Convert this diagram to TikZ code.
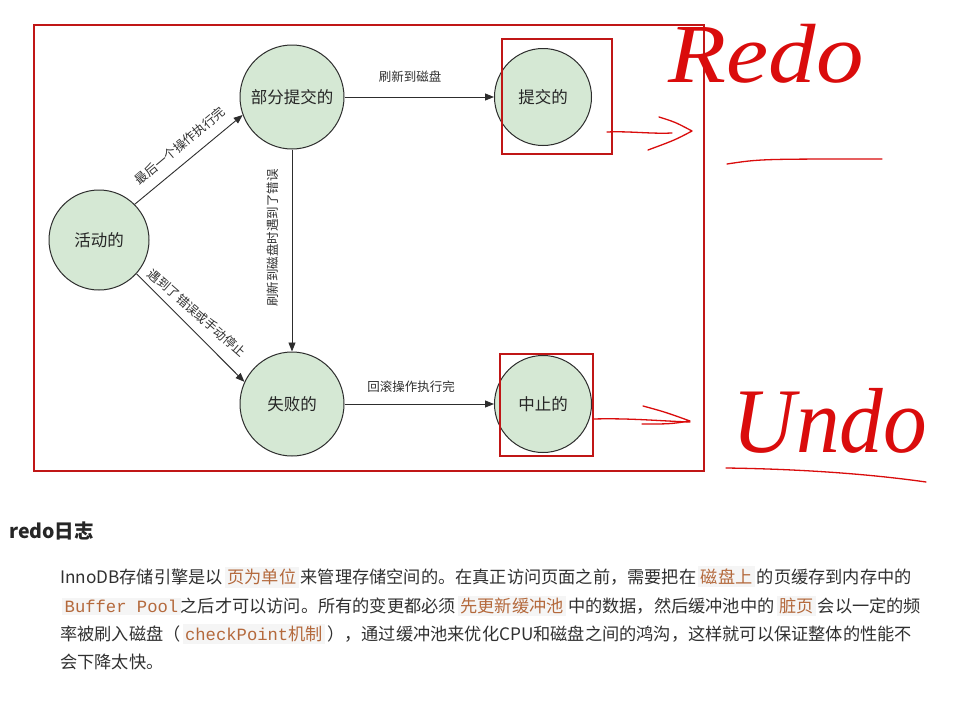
\documentclass[tikz,border=0pt]{standalone}
\usepackage{fontspec}
\setmainfont{Noto Sans CJK SC}
\setmonofont{Liberation Mono}
\newfontfamily\hand{Liberation Serif}
\usetikzlibrary{arrows.meta}
\definecolor{nodefill}{RGB}{213,232,212}
\definecolor{nodeline}{RGB}{45,45,45}
\definecolor{boxred}{RGB}{192,22,22}
\definecolor{inkred}{RGB}{218,12,12}
\definecolor{bodytext}{RGB}{48,48,48}
\definecolor{hlfg}{RGB}{180,105,60}
\definecolor{hlbg}{RGB}{245,245,245}
\newcommand{\hlbox}[1]{{\setlength{\fboxsep}{2.5pt}\colorbox{hlbg}{\color{hlfg}#1}}}
\newcommand{\hlspan}[1]{\hspace{2pt}\hlbox{#1}\hspace{2pt}}
\begin{document}
\begin{tikzpicture}[x=1pt,y=-1pt,
  state/.style={circle, draw=nodeline, line width=1pt, fill=nodefill, minimum size=100pt, inner sep=0pt, text=black!85, font=\fontsize{16.5}{17}\selectfont},
  conn/.style={draw=nodeline, line width=0.9pt, -{Triangle[length=9pt,width=7pt]}},
  elabel/.style={font=\fontsize{12.5}{13}\selectfont, text=bodytext, inner sep=0pt},
  redbox/.style={draw=boxred, line width=1.2pt},
  ink/.style={draw=inkred, line width=1.3pt, line cap=round, line join=round},
  inktext/.style={text=inkred, font=\hand\itshape\fontsize{84}{84}\selectfont, inner sep=0pt},
  para/.style={anchor=west, inner sep=0pt, text=bodytext, font=\fontsize{17.2}{18}\selectfont}]
\path[use as bounding box, fill=white] (0,0) rectangle (963,704);

% states
\node[state] (active) at (99,240) {活动的};
\node[state, minimum size=104pt] (partial) at (292,97) {部分提交的};
\node[state, minimum size=97pt] (committed) at (543,97) {提交的};
\node[state, minimum size=104pt] (failed) at (292,404) {失败的};
\node[state, minimum size=97pt] (aborted) at (543,404) {中止的};

% connectors
\draw[conn] (active.45) -- (partial.200);
\draw[conn] (active.-42) -- (failed.155);
\draw[conn] (partial) -- (committed);
\draw[conn] (partial) -- (failed);
\draw[conn] (failed) -- (aborted);

% labels
\node[elabel, rotate=40] (l1) at (180,146) {最后一个操作执行完};
\node[elabel, rotate=-41] (l2) at (197,313) {遇到了错误或手动停止};
\node[elabel] (l3) at (410,77) {刷新到磁盘};
\node[elabel, rotate=90] (l4) at (273,238) {刷新到磁盘时遇到了错误};
\node[elabel] (l5) at (411,387) {回滚操作执行完};

% red boxes
\draw[redbox] (34,25) rectangle (704,471);
\draw[redbox] (502,39) rectangle (612,154);
\draw[redbox] (500,354) rectangle (593,456);

% hand-drawn arrows
\draw[ink] (607,132) .. controls (630,131) and (650,134) .. (672,133);
\draw[ink] (659,117) .. controls (675,122) .. (692,131) .. controls (675,140) .. (648,150);
\draw[ink] (593,419) .. controls (630,418) and (660,421) .. (690,422);
\draw[ink] (643,406) .. controls (665,412) .. (690,421) .. controls (670,424) .. (642,424);

% handwriting
\node[inktext, xscale=1.13] (redo) at (766,54) {Redo};
\draw[ink] (727,164) .. controls (760,159) .. (882,159);
\node[inktext, xscale=1.04, yscale=1.1] (undo) at (830,421) {Undo};
\draw[ink] (726,468) .. controls (800,469) and (870,474) .. (926,482);

% text section
\node[anchor=west, inner sep=0pt, text=black!85, font=\bfseries\fontsize{19.5}{20}\selectfont] (head) at (9,531) {redo日志};
\node[para] (p1) at (60,577) {InnoDB存储引擎是以\hlspan{页为单位}来管理存储空间的。在真正访问页面之前，需要把在\hlspan{磁盘上}的页缓存到内存中的};
\node[para] (p2) at (62,606) {\hlbox{\texttt{Buffer Pool}}之后才可以访问。所有的变更都必须\hlspan{先更新缓冲池}中的数据，然后缓冲池中的\hlspan{脏页}会以一定的频};
\node[para] (p3) at (60,634) {率被刷入磁盘（\hlspan{\texttt{checkPoint}机制}），通过缓冲池来优化CPU和磁盘之间的鸿沟，这样就可以保证整体的性能不};
\node[para] (p4) at (60,662) {会下降太快。};
\end{tikzpicture}
\end{document}
